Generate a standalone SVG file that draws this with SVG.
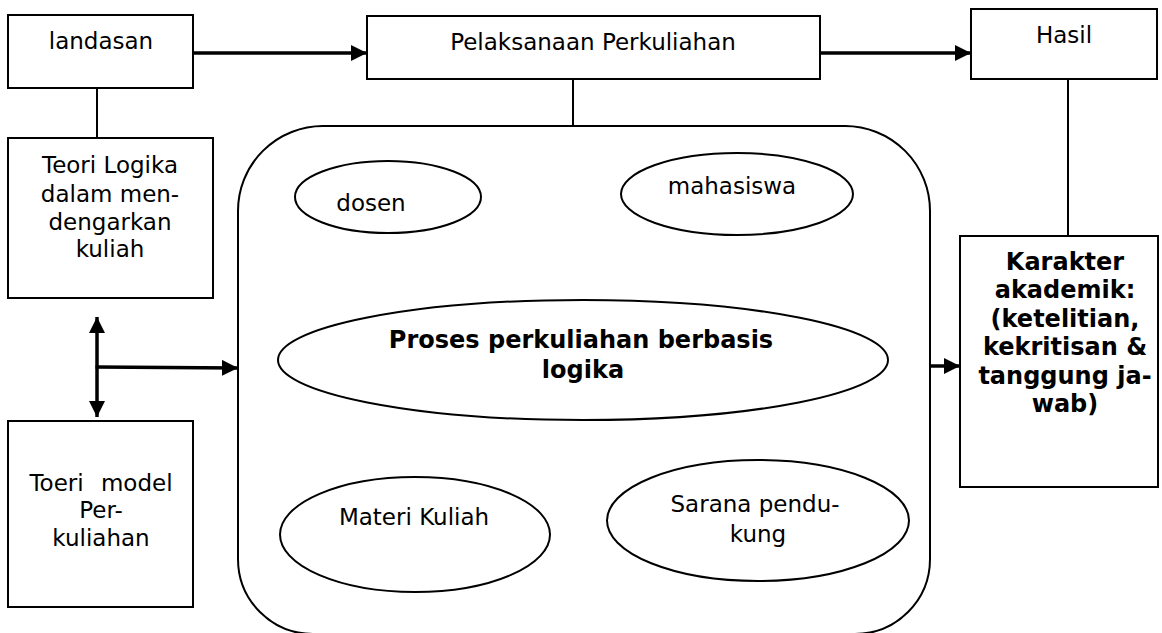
<svg xmlns="http://www.w3.org/2000/svg" width="1162" height="633" viewBox="0 0 1162 633">
<style>
.box{fill:#fff;stroke:#000;stroke-width:2}
.ell{fill:#fff;stroke:#000;stroke-width:2}
.t{font-family:"DejaVu Sans","Liberation Sans",sans-serif;font-size:23px;fill:#000;text-anchor:middle}
.b{font-family:"DejaVu Sans","Liberation Sans",sans-serif;font-size:24px;font-weight:bold;fill:#000;text-anchor:middle}
.thin{stroke:#000;stroke-width:2;fill:none}
.thick{stroke:#000;stroke-width:3.5;fill:none}
</style>
<defs>
<marker id="ah" viewBox="0 0 10 10" refX="10" refY="5" markerWidth="4.6" markerHeight="4.6" markerUnits="strokeWidth" orient="auto">
<path d="M0,0 L10,5 L0,10 Z" fill="#000"/>
</marker>
</defs>
<rect width="1162" height="633" fill="#fff"/>
<g id="connectors">
<line class="thin" x1="97" y1="88" x2="97" y2="138"/>
<line class="thin" x1="573" y1="79" x2="573" y2="126"/>
<line class="thin" x1="1068" y1="79" x2="1068" y2="236"/>
<line class="thick" x1="193" y1="53" x2="367" y2="53" marker-end="url(#ah)"/>
<line class="thick" x1="820" y1="53" x2="971" y2="53" marker-end="url(#ah)"/>
<line class="thick" x1="97" y1="367" x2="97" y2="317" marker-end="url(#ah)"/>
<line class="thick" x1="97" y1="367" x2="97" y2="417" marker-end="url(#ah)"/>
<line class="thick" x1="95.5" y1="367" x2="238" y2="368" marker-end="url(#ah)"/>
<line class="thick" x1="930" y1="366" x2="960" y2="366" marker-end="url(#ah)"/>
</g>
<g id="landasan">
<rect class="box" x="8" y="15" width="185" height="73"/>
<text class="t" x="101" y="49">landasan</text>
</g>
<g id="pelaksanaan">
<rect class="box" x="367" y="16" width="453" height="63"/>
<text class="t" x="593" y="50">Pelaksanaan Perkuliahan</text>
</g>
<g id="hasil">
<rect class="box" x="971" y="9" width="186" height="70"/>
<text class="t" x="1064" y="43">Hasil</text>
</g>
<g id="teori-logika">
<rect class="box" x="8" y="138" width="205" height="160"/>
<text class="t" x="110" y="173">Teori Logika</text>
<text class="t" x="110" y="202">dalam men-</text>
<text class="t" x="110" y="230">dengarkan</text>
<text class="t" x="110" y="257">kuliah</text>
</g>
<g id="toeri-model">
<rect class="box" x="8" y="421" width="185" height="186"/>
<text class="t" x="101" y="491" word-spacing="10">Toeri model</text>
<text class="t" x="101" y="518">Per-</text>
<text class="t" x="101" y="546">kuliahan</text>
</g>
<g id="proses-container">
<path class="box" d="M323,126 L845,126 A85,85 0 0 1 930,211 L930,559 A75,75 0 0 1 855,634 L313,634 A75,75 0 0 1 238,559 L238,211 A85,85 0 0 1 323,126 Z"/>
</g>
<g id="dosen">
<ellipse class="ell" cx="388" cy="197" rx="93" ry="36"/>
<text class="t" x="371" y="211">dosen</text>
</g>
<g id="mahasiswa">
<ellipse class="ell" cx="737" cy="194" rx="116" ry="41"/>
<text class="t" x="732" y="194">mahasiswa</text>
</g>
<g id="proses">
<ellipse class="ell" cx="583" cy="360" rx="305" ry="60"/>
<text class="b" x="581" y="348">Proses perkuliahan berbasis</text>
<text class="b" x="583" y="378">logika</text>
</g>
<g id="materi">
<ellipse class="ell" cx="415" cy="534.5" rx="135" ry="57.5"/>
<text class="t" x="414" y="525">Materi Kuliah</text>
</g>
<g id="sarana">
<ellipse class="ell" cx="758" cy="520.5" rx="151" ry="60.5"/>
<text class="t" x="755" y="512">Sarana pendu-</text>
<text class="t" x="758" y="542">kung</text>
</g>
<g id="karakter">
<rect class="box" x="960" y="236" width="198" height="251"/>
<text class="b" x="1065" y="270">Karakter</text>
<text class="b" x="1065" y="298">akademik:</text>
<text class="b" x="1065" y="327">(ketelitian,</text>
<text class="b" x="1065" y="355">kekritisan &amp;</text>
<text class="b" x="1065" y="384">tanggung ja-</text>
<text class="b" x="1065" y="412">wab)</text>
</g>
</svg>
